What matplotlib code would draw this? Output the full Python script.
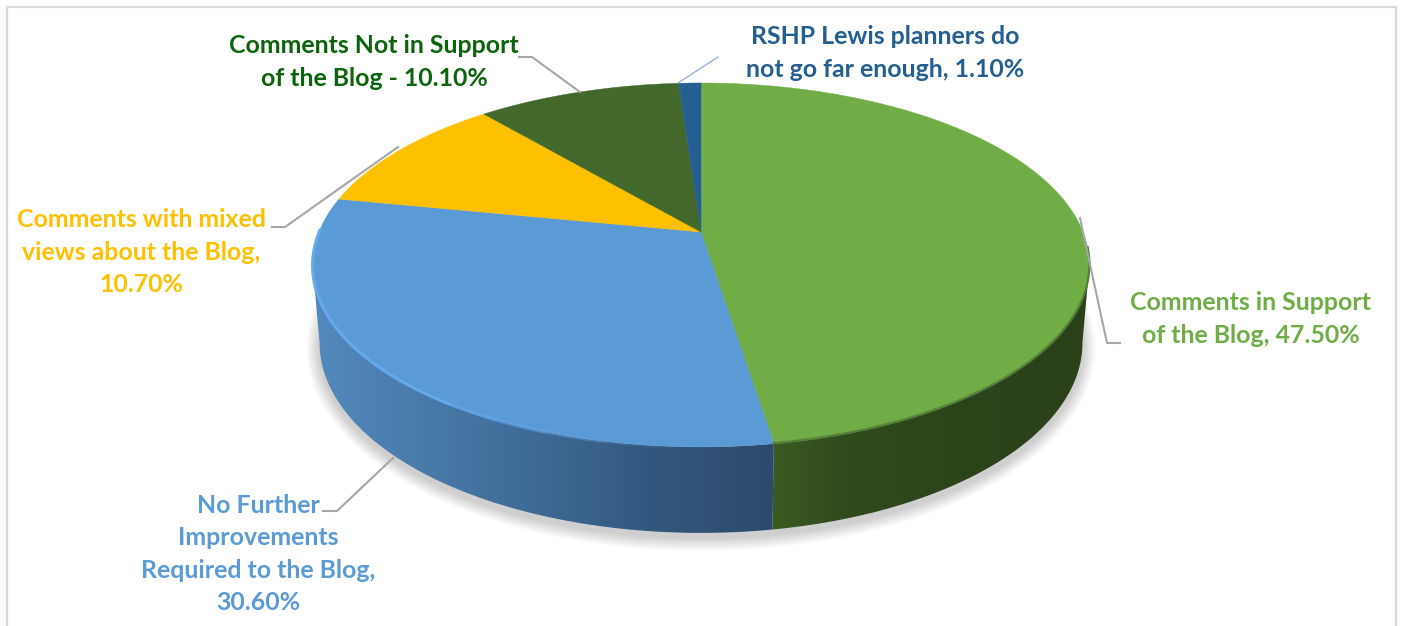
import numpy as np
import matplotlib
matplotlib.use("Agg")
import matplotlib.pyplot as plt
from matplotlib.colors import to_rgb
from matplotlib.patches import Polygon

# ---- data, clockwise from 12 o'clock
categories = ["Comments in Support\nof the Blog, 47.50%",
              "No Further\nImprovements\nRequired to the Blog,\n30.60%",
              "Comments with mixed\nviews about the Blog,\n10.70%",
              "Comments Not in Support\nof the Blog - 10.10%",
              "RSHP Lewis planners do\nnot go far enough, 1.10%"]
values = [47.5, 30.6, 10.7, 10.1, 1.1]
colors = ["#70AD47", "#5B9BD5", "#FFC000", "#43682B", "#255E91"]
text_colors = ["#70AD47", "#5B9BD5", "#FFC000", "#0B640B", "#255E91"]
label_pos = [(1251, 319), (258, 554), (141, 252), (374, 62), (885, 53)]
leaders = [[(1120, 343), (1107, 343), (1080, 218)],
           [(323, 511), (337, 511), (393, 458)],
           [(272, 227), (285, 227), (398, 147)],
           [(519, 57), (532, 57), (580, 92)],
           [(718, 57), (678, 83)]]
leader_colors = ["#a6a6a6", "#a6a6a6", "#a6a6a6", "#a6a6a6", "#8faadc"]
side_stops = {0: [(775, "#3a5a22"), (850, "#2f4a1c"), (1000, "#2c421a"), (1090, "#2b411a")],
              1: [(315, "#5489bd"), (450, "#4677a5"), (650, "#33587f"), (775, "#2c4a6b")]}

fig = plt.figure(figsize=(14.01, 6.26), dpi=100)
ax = fig.add_axes([0, 0, 1, 1])

# perspective disc
CX, CY, A, B, P = 701, 232, 382, 176, 0.181
def top(theta):
    t = np.radians(theta)
    u, v = np.sin(t), np.cos(t)
    d = 1 + P * v
    return CX + A * u / d, CY - B * v / d
def base(theta):
    x, y = top(theta)
    return CX + (x - CX) * 382 / 389, 343 + (y - 265) * 190 / 182

edges = np.concatenate([[0], np.cumsum(values)]) * 3.6
EXT_R, EXT_L = 100.4, 259.6   # angles of the disc's right and left silhouette

# frame
ax.plot([7, 7, 1396, 1396], [626, 7, 7, 626], color="#d9d9d9", lw=1.6, zorder=0)

# soft shadow
ang = np.linspace(0, 360, 361)
bx, by = base(ang)
for k in range(12, 0, -1):
    sx = CX + (bx - CX) * (1 + k * 1.1 / 382)
    sy = 348 + (by - 343) * (1 + k * 1.1 / 190)
    ax.fill(sx, sy, color="#000000", alpha=0.017, lw=0, zorder=1)

# side wall: one gradient image per visible slice, clipped to the wall shape
for i, (a0, a1) in enumerate(zip(edges[:-1], edges[1:])):
    if i not in side_stops:
        continue
    xs = [s[0] for s in side_stops[i]]
    cs = np.array([to_rgb(s[1]) for s in side_stops[i]])
    th = np.linspace(max(a0, EXT_R), min(a1, EXT_L), 300)
    tx, ty = top(th)
    ux, uy = base(th)
    poly = np.c_[np.r_[tx, ux[::-1]], np.r_[ty, uy[::-1]]]
    x0, x1 = poly[:, 0].min(), poly[:, 0].max()
    gx = np.linspace(x0, x1, 256)
    grad = np.stack([np.interp(gx, xs, cs[:, c]) for c in range(3)], axis=-1)[None, :, :]
    patch = Polygon(poly, closed=True, transform=ax.transData, facecolor="none", edgecolor="none")
    ax.add_patch(patch)
    im = ax.imshow(grad, extent=(x0, x1, poly[:, 1].max(), poly[:, 1].min()),
                   aspect="auto", zorder=2, interpolation="bilinear")
    im.set_clip_path(patch)

# top face
for a0, a1, c in zip(edges[:-1], edges[1:], colors):
    th = np.linspace(a0, a1, max(int(a1 - a0) * 2, 4))
    x, y = top(th)
    ax.fill(np.r_[CX, x], np.r_[CY, y], facecolor=c, edgecolor=c, lw=0.3, zorder=3)

# bevel rim, fading out towards the front
th = np.linspace(edges[1] + 14, edges[2] - 10, 13)
fade = np.r_[np.linspace(0.15, 1, 5), np.ones(7)]
for t0, t1, al in zip(th[:-1], th[1:], fade):
    seg = np.linspace(t0, t1, 30)
    x, y = top(seg)
    ax.plot(x, y + 0.5, color="#63A9EC", alpha=al, lw=2.2, zorder=4, solid_capstyle="butt")
th = np.linspace(95, edges[1], 150)
x, y = top(th)
ax.plot(x, y - 0.5, color="#55803A", lw=1.6, zorder=4)

# leaders
for pts, c in zip(leaders, leader_colors):
    p = np.array(pts)
    ax.plot(p[:, 0], p[:, 1], color=c, lw=1.5 if c == "#a6a6a6" else 0.9,
            zorder=5, solid_joinstyle="miter")

# labels
for s, (x, y), c in zip(categories, label_pos, text_colors):
    ax.text(x, y, s, color=c, ha="center", va="center", family="Lato",
            fontweight="bold", fontsize=17.9, linespacing=1.5, zorder=6)

ax.set_xlim(0, 1401)
ax.set_ylim(626, 0)
ax.axis("off")
fig.savefig("out.png", dpi=100)
